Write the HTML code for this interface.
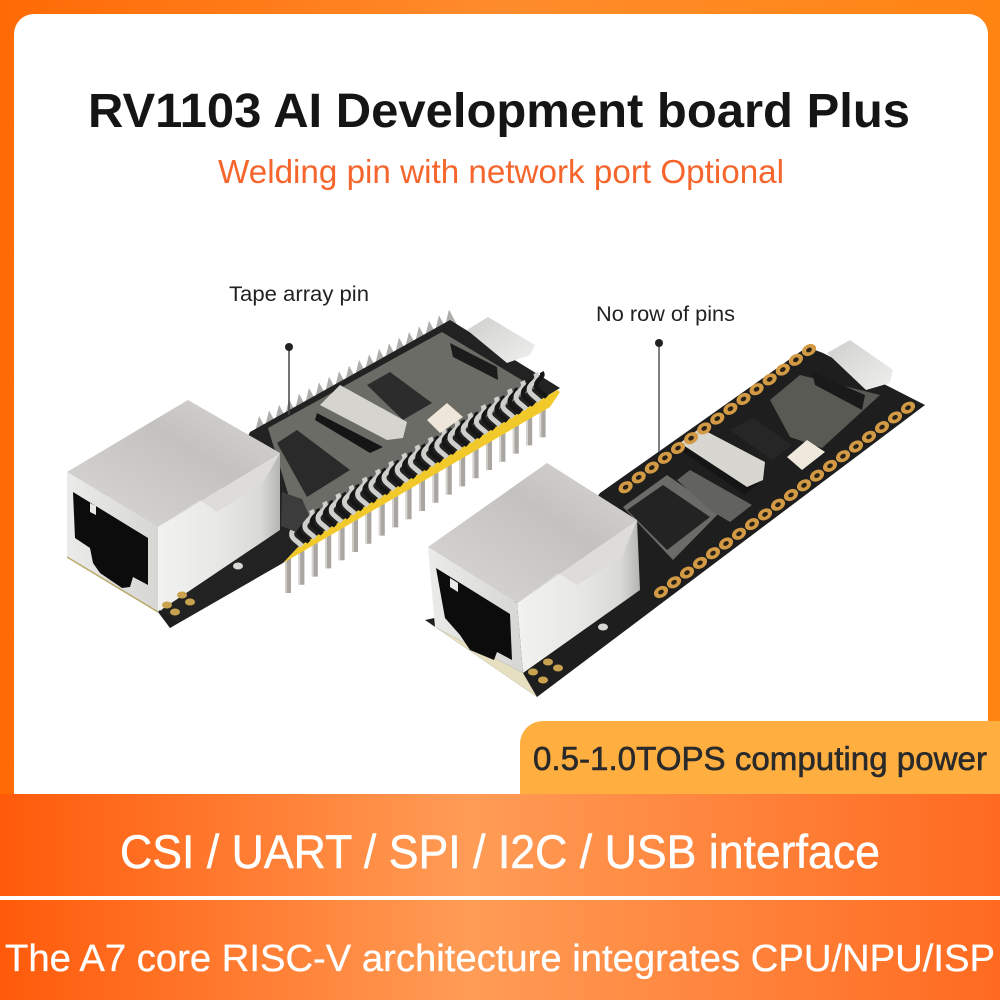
<!DOCTYPE html>
<html><head><meta charset="utf-8"><style>
html,body{margin:0;padding:0;width:1000px;height:1000px;overflow:hidden;background:#fff}
svg{display:block}
text{font-family:"Liberation Sans",sans-serif}
</style></head><body>
<svg xmlns="http://www.w3.org/2000/svg" width="1000" height="1000" viewBox="0 0 1000 1000">
<defs>
<linearGradient id="bg" x1="0" x2="1" y1="0" y2="0"><stop offset="0" stop-color="#ff6a05"/><stop offset=".5" stop-color="#ff8c2c"/><stop offset="1" stop-color="#ff8412"/></linearGradient>
<linearGradient id="band" x1="0" x2="1" y1="0" y2="0"><stop offset="0" stop-color="#ff5a0a"/><stop offset=".47" stop-color="#ff9c56"/><stop offset="1" stop-color="#ff6a20"/></linearGradient>
<linearGradient id="top" x1="0" x2="1" y1="1" y2="0"><stop offset="0" stop-color="#d9d8d5"/><stop offset=".6" stop-color="#c4c2be"/><stop offset="1" stop-color="#dad8d4"/></linearGradient>
<linearGradient id="side" x1="0" x2="1" y1="0" y2="0"><stop offset="0" stop-color="#f2f2f1"/><stop offset=".55" stop-color="#e6e6e4"/><stop offset=".85" stop-color="#d8d8d5"/><stop offset="1" stop-color="#b4b4b0"/></linearGradient>
<linearGradient id="front" x1="0" x2="1" y1="0" y2="0"><stop offset="0" stop-color="#ebebe9"/><stop offset="1" stop-color="#d6d6d3"/></linearGradient>
<linearGradient id="usb" x1="0" x2="1" y1="0" y2="1"><stop offset="0" stop-color="#cfcfcd"/><stop offset="1" stop-color="#efefed"/></linearGradient>
</defs>
<rect width="1000" height="1000" fill="url(#bg)"/>
<rect x="14" y="14" width="974" height="800" rx="20" fill="#fff"/>

<text x="499" y="127" font-size="48" font-weight="bold" text-anchor="middle" fill="#151515" textLength="822" lengthAdjust="spacingAndGlyphs">RV1103 AI Development board Plus</text>
<text x="501" y="183" font-size="33" text-anchor="middle" fill="#f5652c" textLength="566" lengthAdjust="spacingAndGlyphs">Welding pin with network port Optional</text>
<text x="229" y="301" font-size="21" fill="#222" textLength="140" lengthAdjust="spacingAndGlyphs">Tape array pin</text>
<text x="596" y="321" font-size="21" fill="#222" textLength="139" lengthAdjust="spacingAndGlyphs">No row of pins</text>

<g id="left">
<g id="lpins"></g>
<polygon points="283,563 298,547 557,390 560,392 550,407" fill="#f1c92a"/>
<g id="ltop"></g>
<polygon points="250,432 450,320 560,388 298,547 283,563 170,628 160,613" fill="#232222"/>
<polygon points="268,428 442,332 535,388 312,520 290,500" fill="#6c6c67"/>
<g id="lsil"></g>
<polygon points="277,443 297,430 350,470 307,497" fill="#2a2a2a"/>
<polygon points="282,492 302,499 309,515 296,532 281,526" fill="#3c3c3c"/>
<polygon points="367,385 390,372 432,403 403,420" fill="#2c2c2c"/>
<polygon points="317,413 383,447 370,453 315,420" fill="#151515"/>
<polygon points="320,405 340,385 407,422 403,438 387,440" fill="#d6d4ce"/>
<polygon points="427,420 447,403 463,417 440,433" fill="#eee6d8"/>
<polygon points="450,343 497,367 498,380 453,357" fill="#1b1b1b"/>
<polygon points="467,330 488,317 535,345 530,355 507,363" fill="url(#usb)"/>
<polygon points="158,527 280,453 280,530 158,612" fill="url(#side)"/>
<polygon points="67,472 188,400 280,453 158,527" fill="url(#top)"/>
<polygon points="158,527 200,500 217,512 263,483 280,453" fill="#dedcd8"/>
<polygon points="67,472 158,527 158,612 67,557" fill="url(#front)"/>
<polygon points="73,492 148,538 148,585 133,577 130,587 122,588 100,573 93,563 90,548 75,538" fill="#0c0c0c"/>
<polygon points="90,503 96,506 96,515 90,512" fill="#e8e8e6"/>
<line x1="67" y1="557" x2="158" y2="612" stroke="#b9a86a" stroke-width="1.5"/>
<polygon points="158,612 170,628 178,622 160,610" fill="#1d1d1d"/>
<g fill="#c9a24f"><ellipse cx="167" cy="605" rx="5" ry="3.5"/><ellipse cx="182" cy="595" rx="5" ry="3.5"/><ellipse cx="190" cy="602" rx="5" ry="3.5"/><ellipse cx="175" cy="612" rx="5" ry="3.5"/></g>
<ellipse cx="238" cy="566" rx="5" ry="3.5" fill="#d8d8d5"/>
</g>

<g id="right">
<polygon points="600,493 807,347 823,353 925,405 537,697 425,620 520,600" fill="#1f1e1e"/>
<polygon points="623,507 667,475 720,512 673,560" fill="#6b6b67"/>
<polygon points="627,510 663,485 710,517 667,550" fill="#232323"/>
<polygon points="677,480 690,470 752,505 730,522 710,510" fill="#62625e"/>
<polygon points="770,400 800,375 860,390 880,395 822,448 790,437" fill="#5a5a55"/>
<polygon points="730,430 753,418 792,445 772,460" fill="#262626"/>
<polygon points="680,450 690,440 762,480 745,495" fill="#151515"/>
<polygon points="680,443 700,428 765,462 763,480 747,487" fill="#d8d6d0"/>
<polygon points="787,457 807,440 825,452 802,470" fill="#efe9dd"/>
<polygon points="812,372 865,395 862,410 815,385" fill="#1a1a1a"/>
<polygon points="827,353 850,340 893,370 890,383 866,390" fill="url(#usb)"/>
<g id="rpads"></g>
<polygon points="425,620 435,627 523,673 537,697" fill="#e6dfc0"/>
<polygon points="517,603 637,520 640,590 523,673" fill="url(#side)"/>
<polygon points="428,547 547,463 637,520 517,603" fill="url(#top)"/>
<polygon points="517,603 558,573 577,585 622,557 637,520" fill="#dedcd8"/>
<polygon points="428,547 517,603 523,673 435,627" fill="url(#front)"/>
<polygon points="436,568 510,614 512,660 497,652 494,660 470,650 460,635 445,618" fill="#0c0c0c"/>
<polygon points="450,578 458,583 458,592 450,587" fill="#e8e8e6"/>
<g fill="#c9a24f"><ellipse cx="533" cy="672" rx="5" ry="3.5"/><ellipse cx="548" cy="662" rx="5" ry="3.5"/><ellipse cx="558" cy="668" rx="5" ry="3.5"/><ellipse cx="543" cy="680" rx="5" ry="3.5"/></g>
<ellipse cx="603" cy="627" rx="5" ry="3.5" fill="#d8d8d5"/>
</g>

<line x1="289" y1="347" x2="289" y2="415" stroke="#444" stroke-width="1.5"/><circle cx="289" cy="347" r="4" fill="#222"/>
<line x1="659" y1="343" x2="659" y2="452" stroke="#555" stroke-width="1.5"/><circle cx="659" cy="343" r="4" fill="#222"/>

<path d="M520 795V744a23 23 0 0 1 23-23H1000V795Z" fill="#ffae40"/>
<text x="533" y="770" font-size="33" fill="#2a2a2a" stroke="#2a2a2a" stroke-width=".6" textLength="454" lengthAdjust="spacingAndGlyphs">0.5-1.0TOPS computing power</text>

<rect y="794" width="1000" height="103" fill="url(#band)"/>
<rect y="896" width="1000" height="4" fill="#fff"/>
<rect y="900" width="1000" height="100" fill="url(#band)"/>
<text x="500" y="868" font-size="47" fill="#fff" stroke="#fff" stroke-width=".5" text-anchor="middle" textLength="760" lengthAdjust="spacingAndGlyphs">CSI / UART / SPI / I2C / USB interface</text>
<text x="500" y="971" font-size="38" fill="#fff" stroke="#fff" stroke-width=".3" text-anchor="middle" textLength="990" lengthAdjust="spacingAndGlyphs">The A7 core RISC-V architecture integrates CPU/NPU/ISP</text>
</svg>
<script>
var NS="http://www.w3.org/2000/svg";
function add(p,n,a){var e=document.createElementNS(NS,n);for(var k in a)e.setAttribute(k,a[k]);document.getElementById(p).appendChild(e);}
for(var i=0;i<20;i++){
  var x=288+i*13.4,y=593-i*8.2;
  add("lpins","line",{x1:x,y1:y-35,x2:x,y2:y,stroke:"#a9a5a0","stroke-width":6});
  add("lpins","line",{x1:x-2,y1:y-35,x2:x-2,y2:y,stroke:"#d9d7d3","stroke-width":1.5});
  if(i<19){
    var bx=302+i*13.2,by=546-i*8.05;
    add("lsil","path",{d:"M"+bx+" "+by+"c-6 -6 -12 -8 -10 -14c2 -5 10 -6 6 -14",fill:"none",stroke:"#cfcfcc","stroke-width":5});
    add("lsil","path",{d:"M"+(bx+7)+" "+(by-4)+"c-6 -6 -12 -8 -10 -14c2 -5 8 -6 5 -11",fill:"none",stroke:"#161616","stroke-width":4.5});
  }
  var tx=254+i*10,ty=428-i*5.6;
  add("ltop","path",{d:"M"+tx+" "+(ty+8)+"l5 -20l8 15z",fill:"#aeada9"});
  var px=661+i*13,py=592-i*9.7;
  add("rpads","ellipse",{cx:px,cy:py,rx:7.5,ry:5.5,fill:"#d39a45",transform:"rotate(-30 "+px+" "+py+")"});
  add("rpads","ellipse",{cx:px,cy:py,rx:3,ry:2.2,fill:"#2a2217",transform:"rotate(-30 "+px+" "+py+")"});
  if(i>4){var qx=809-(19-i)*13.1,qy=350+(19-i)*9.8;
   add("rpads","ellipse",{cx:qx,cy:qy,rx:7.5,ry:5.5,fill:"#d39a45",transform:"rotate(-30 "+qx+" "+qy+")"});
   add("rpads","ellipse",{cx:qx,cy:qy,rx:3,ry:2.2,fill:"#2a2217",transform:"rotate(-30 "+qx+" "+qy+")"});}
}
</script>
</body></html>
